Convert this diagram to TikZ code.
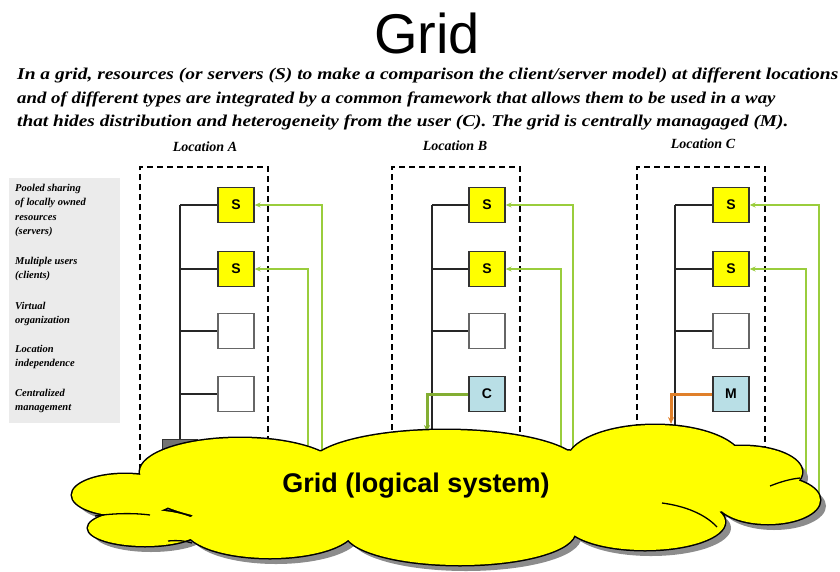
\documentclass[tikz,border=0pt]{standalone}
\usepackage{fontspec}
\setmainfont{Liberation Serif}
\newfontfamily\arial{Liberation Sans}
\usetikzlibrary{arrows.meta}
\definecolor{srvyellow}{HTML}{FFFF00}
\definecolor{cliblue}{HTML}{B9DFE6}
\definecolor{gridgreen}{HTML}{9ACD3C}
\definecolor{mgrorange}{HTML}{E0802A}
\definecolor{panelgray}{HTML}{EBEBEB}
\tikzset{
  unitbox/.style={draw=black!80, line width=1.3pt, minimum width=36pt, minimum height=35pt, inner sep=0pt, font=\arial\bfseries\fontsize{14}{14}\selectfont},
  server/.style={unitbox, fill=srvyellow},
  client/.style={unitbox, fill=cliblue},
  emptyunit/.style={unitbox, draw=black!60, fill=white},
  location/.style={draw, dashed, dash pattern=on 6pt off 4pt, line width=1.2pt},
  bus/.style={draw=black!85, line width=1.4pt},
  stub/.style={draw=black!85, line width=1.1pt},
  gridlink/.style={draw=gridgreen, line width=2pt, -{Stealth[length=6pt,width=5pt]}},
  userlink/.style={draw=gridgreen!85!black, line width=3pt, -{Stealth[length=7pt,width=6pt]}},
  mgrlink/.style={draw=mgrorange, line width=3pt, -{Stealth[length=7pt,width=6pt]}},
  loclabel/.style={font=\bfseries\itshape\fontsize{14}{14}\selectfont},
  sidelabel/.style={font=\bfseries\itshape\fontsize{10.5}{14.5}\selectfont, align=left, anchor=north west, inner sep=0pt},
  desc/.style={font=\bfseries\itshape\fontsize{16.5}{16.5}\selectfont, anchor=base west, inner sep=0pt},
  fold/.style={line width=1.3pt},
}
% cloud made of overlapping ellipses
\def\cloudpath{
  (125,495) ellipse [x radius=53pt, y radius=21pt]
  (145,528) ellipse [x radius=57pt, y radius=18pt]
  (240,472) ellipse [x radius=100pt, y radius=34pt]
  (445,466) ellipse [x radius=135pt, y radius=36pt]
  (655,462) ellipse [x radius=88pt, y radius=37pt]
  (742,472) ellipse [x radius=60pt, y radius=26pt]
  (768,500) ellipse [x radius=52pt, y radius=24pt]
  (645,522) ellipse [x radius=80pt, y radius=28pt]
  (460,532) ellipse [x radius=115pt, y radius=33pt]
  (270,528) ellipse [x radius=85pt, y radius=30pt]
  (450,492) ellipse [x radius=300pt, y radius=45pt]
}
\begin{document}
\begin{tikzpicture}[x=1pt, y=-1pt]
\useasboundingbox (0,0) rectangle (840,571);

% title and description
\node[font=\arial\fontsize{56}{56}\selectfont, anchor=base] (title) at (427,53) {Grid};
\node[desc] (d1) at (17,79) {\scalebox{1.18}[1]{In a grid, resources (or servers (S) to make a comparison the client/server model) at different locations}};
\node[desc] (d2) at (17,103) {\scalebox{1.14}[1]{and of different types are integrated by a common framework that allows them to be used in a way}};
\node[desc] (d3) at (17,126) {\scalebox{1.17}[1]{that hides distribution and heterogeneity from the user (C). The grid is centrally managaged (M).}};

% side panel
\fill[panelgray] (9,178) rectangle (120,423);
\node[sidelabel] (p1) at (15,184) {Pooled sharing\\of locally owned\\resources\\(servers)};
\node[sidelabel] (p2) at (15,257) {Multiple users\\(clients)};
\node[sidelabel] (p3) at (15,302) {Virtual\\organization};
\node[sidelabel] (p4) at (15,345) {Location\\independence};
\node[sidelabel] (p5) at (15,389) {Centralized\\management};

% location frames
\node[loclabel] (lA) at (205,147) {Location A};
\node[loclabel] (lB) at (455,146) {Location B};
\node[loclabel] (lC) at (703,144) {Location C};
\draw[location] (140,490) -- (140,167) -- (268,167) -- (268,490);
\draw[location] (392,490) -- (392,167) -- (520,167) -- (520,490);
\draw[location] (637,490) -- (637,167) -- (765,167) -- (765,490);

% location A
\node[server] (aS1) at (236,205) {S};
\node[server] (aS2) at (236,269) {S};
\node[emptyunit] (aE1) at (236,331) {};
\node[emptyunit] (aE2) at (236,394) {};
\node[draw=black!80, fill=black!55, line width=1pt, minimum width=35pt, minimum height=22pt, inner sep=0pt, anchor=north] (aG) at (180,439) {};
\coordinate (aTop) at (180,205);
\draw[bus] (aTop) -- (aG.north);
\foreach \b in {aS1,aS2,aE1,aE2} \draw[stub] (aTop |- \b.west) -- (\b.west);

% location B
\node[server] (bS1) at (487,205) {S};
\node[server] (bS2) at (487,269) {S};
\node[emptyunit] (bE1) at (487,331) {};
\node[client] (bC) at (487,394) {C};
\coordinate (bTop) at (432,205);
\coordinate (bBot) at (432,460);
\draw[bus] (bTop) -- (bBot);
\foreach \b in {bS1,bS2,bE1} \draw[stub] (bTop |- \b.west) -- (\b.west);
\coordinate (bUser) at (427,432);
\draw[userlink] (bC.west) -| (bUser);

% location C
\node[server] (cS1) at (731,205) {S};
\node[server] (cS2) at (731,269) {S};
\node[emptyunit] (cE1) at (731,331) {};
\node[client] (cM) at (731,394) {M};
\coordinate (cTop) at (675,205);
\coordinate (cBot) at (675,460);
\draw[bus] (cTop) -- (cBot);
\foreach \b in {cS1,cS2,cE1} \draw[stub] (cTop |- \b.west) -- (\b.west);
\coordinate (cMgr) at (671,424);
\draw[mgrlink] (cM.west) -| (cMgr);

% servers attached to the grid
\coordinate (gA1) at (322,480);
\coordinate (gA2) at (308,480);
\coordinate (gB1) at (573,480);
\coordinate (gB2) at (561,480);
\coordinate (gC1) at (819,505);
\coordinate (gC2) at (806,505);
\draw[gridlink] (gA1) |- (aS1.east);
\draw[gridlink] (gA2) |- (aS2.east);
\draw[gridlink] (gB1) |- (bS1.east);
\draw[gridlink] (gB2) |- (bS2.east);
\draw[gridlink] (gC1) |- (cS1.east);
\draw[gridlink] (gC2) |- (cS2.east);

% the grid cloud: shadow, outline, fill
\begin{scope}[shift={(6,6)}]
  \fill[black!45] \cloudpath;
\end{scope}
\draw[line width=3pt, black] \cloudpath;
\fill[srvyellow] \cloudpath;
% inner folds of the cloud
\draw[fold] (95,516) .. controls (115,513) and (135,513) .. (150,515);
\draw[fold] (168,541) .. controls (178,540) and (186,541) .. (192,543);
\draw[fold] (770,486) .. controls (780,482) and (790,479) .. (800,478);
\draw[fold] (662,503) .. controls (685,506) and (705,514) .. (717,527);
\node[font=\arial\bfseries\fontsize{27}{27}\selectfont] (gridname) at (416,486) {Grid (logical system)};
\end{tikzpicture}
\end{document}
